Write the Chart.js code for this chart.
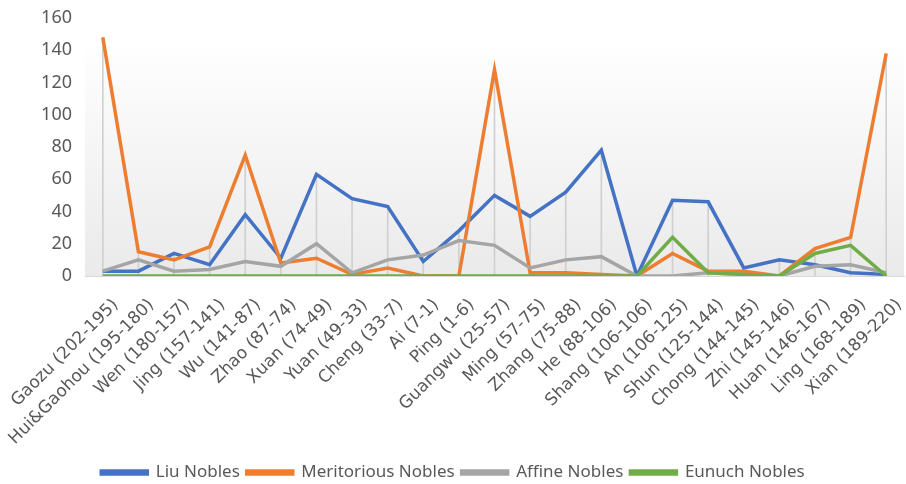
<!DOCTYPE html>
<html>
<head>
<meta charset="utf-8">
<script src="https://cdn.jsdelivr.net/npm/chart.js@4.4.1/dist/chart.umd.min.js"></script>
<style>
  html, body { margin: 0; padding: 0; background: #ffffff; }
  #wrap { width: 906px; height: 484px; position: relative; }
</style>
</head>
<body>
<div id="wrap"><canvas id="c" width="906" height="484"></canvas></div>
<script>
const categories = ["Gaozu (202-195)", "Hui&Gaohou (195-180)", "Wen (180-157)", "Jing (157-141)", "Wu (141-87)", "Zhao (87-74)", "Xuan (74-49)", "Yuan (49-33)", "Cheng (33-7)", "Ai (7-1)", "Ping (1-6)", "Guangwu (25-57)", "Ming (57-75)", "Zhang (75-88)", "He (88-106)", "Shang (106-106)", "An (106-125)", "Shun (125-144)", "Chong (144-145)", "Zhi (145-146)", "Huan (146-167)", "Ling (168-189)", "Xian (189-220)"];
const liuNobles = [3, 3, 14, 7, 38, 11, 63, 48, 43, 9, 28, 50, 37, 52, 78, 0, 47, 46, 5, 10, 7, 2, 1];
const meritoriousNobles = [148, 15, 10, 18, 75, 8, 11, 1, 5, 0, 0, 128, 2, 2, 1, 0, 14, 3, 3, 0, 17, 24, 138];
const affineNobles = [3, 10, 3, 4, 9, 6, 20, 2, 10, 13, 22, 19, 5, 10, 12, 0, 0, 2, 1, 0, 6, 7, 2];
const eunuchNobles = [0, 0, 0, 0, 0, 0, 0, 0, 0, 0, 0, 0, 0, 0, 0, 0, 24, 2, 1, 0, 14, 19, 0];
const yTicks = [0, 20, 40, 60, 80, 100, 120, 140, 160];

// drop lines: from 0 to the highest value in each category
const dropLines = categories.map((_, i) => [0, Math.max(liuNobles[i], meritoriousNobles[i], affineNobles[i], eunuchNobles[i])]);

const bgPlugin = {
  id: 'plotBg',
  beforeDraw(chart) {
    const { ctx, chartArea: a } = chart;
    const top = a.top + 22;
    const g = ctx.createLinearGradient(0, top, 0, a.bottom);
    g.addColorStop(0, 'rgba(255,255,255,1)');
    g.addColorStop(1, 'rgba(234,234,234,1)');
    ctx.save();
    ctx.fillStyle = g;
    ctx.fillRect(a.left, top, a.right - a.left, a.bottom - top);
    ctx.restore();
  }
};

const textColor = '#595959';
const font = "'Noto Sans', sans-serif";
const xFont = "'DejaVu Sans', sans-serif";

new Chart(document.getElementById('c'), {
  data: {
    labels: categories,
    datasets: [
      { type: 'line', label: 'Liu Nobles', data: liuNobles, borderColor: '#4472C4', backgroundColor: '#4472C4', borderWidth: 3.5, pointRadius: 0, tension: 0, order: 4 },
      { type: 'line', label: 'Meritorious Nobles', data: meritoriousNobles, borderColor: '#ED7D31', backgroundColor: '#ED7D31', borderWidth: 3.5, pointRadius: 0, tension: 0, order: 3 },
      { type: 'line', label: 'Affine Nobles', data: affineNobles, borderColor: '#A5A5A5', backgroundColor: '#A5A5A5', borderWidth: 3.5, pointRadius: 0, tension: 0, order: 2 },
      { type: 'line', label: 'Eunuch Nobles', data: eunuchNobles, borderColor: '#70AD47', backgroundColor: '#70AD47', borderWidth: 3.5, pointRadius: 0, tension: 0, order: 1 },
      { type: 'bar', label: 'drop', data: dropLines, backgroundColor: '#d0d0d0', barThickness: 1, order: 5 }
    ]
  },
  options: {
    responsive: false,
    animation: false,
    layout: { padding: { top: 18, left: 2, right: 2, bottom: -7 } },
    plugins: {
      tooltip: { enabled: false },
      legend: {
        position: 'bottom',
        labels: {
          filter: (item) => item.text !== 'drop',
          sort: (a, b) => a.datasetIndex - b.datasetIndex,
          boxWidth: 46,
          boxHeight: 3,
          padding: 7,
          color: textColor,
          font: { family: font, size: 17 }
        }
      }
    },
    scales: {
      x: {
        offset: true,
        grid: { display: false, drawTicks: false },
        border: { display: true, color: '#d9d9d9', width: 1 },
        afterFit: (s) => { s.paddingLeft = 0; s.paddingRight = 0; s.height = 181; },
        ticks: {
          autoSkip: false,
          maxRotation: 45,
          minRotation: 45,
          padding: 19,
          labelOffset: 13,
          color: textColor,
          font: { family: xFont, size: 17 }
        }
      },
      y: {
        min: 0,
        max: 160,
        afterBuildTicks: (scale) => { scale.ticks = yTicks.map(v => ({ value: v })); },
        afterFit: (s) => { s.width = 83; s.paddingTop = 0; s.paddingBottom = 0; },
        grid: { display: false, drawTicks: false },
        border: { display: false },
        ticks: {
          padding: 13,
          color: textColor,
          font: { family: font, size: 18 }
        }
      }
    }
  },
  plugins: [bgPlugin]
});
</script>
</body>
</html>
